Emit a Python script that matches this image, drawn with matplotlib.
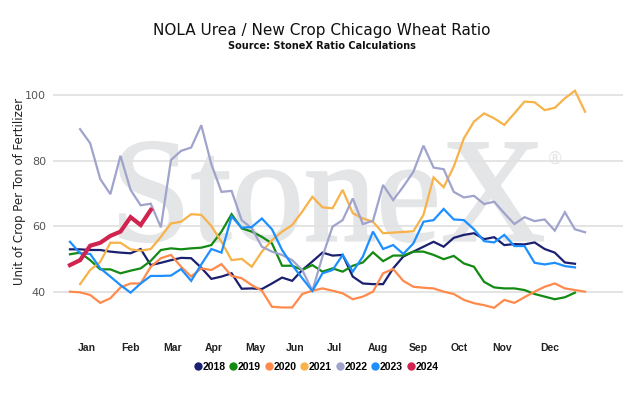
import numpy as np
import matplotlib
matplotlib.use("Agg")
import matplotlib.pyplot as plt
from matplotlib.textpath import TextPath
from matplotlib.patches import PathPatch
from matplotlib.font_manager import FontProperties
from matplotlib.transforms import Affine2D
from matplotlib.lines import Line2D

title = "NOLA Urea / New Crop Chicago Wheat Ratio"
subtitle = "Source: StoneX Ratio Calculations"

# weekly values (index 0 = first week shown)
y2018 = [53.0, 53.0, 52.8, 52.8, 52.3, 52.0, 51.8, 53.1, 48.2, 48.9, 49.7, 50.4, 50.3, 47.4,
         44.0, 44.7, 45.7, 41.0, 41.1, 40.9, 42.6, 44.4, 43.4, 46.7, 49.3, 52.0, 51.1, 51.3,
         44.7, 42.6, 42.4, 42.4, 47.2, 50.8, 52.3, 53.8, 55.3, 53.8, 56.5, 57.4, 57.9, 56.1,
         56.7, 54.3, 54.6, 54.5, 55.1, 53.1, 52.0, 49.0, 48.6]
y2019 = [51.5, 52.0, 49.7, 46.9, 46.9, 45.7, 46.5, 47.2, 49.5, 52.8, 53.3, 53.0, 53.3, 53.5,
         54.3, 58.4, 63.7, 59.4, 58.4, 56.8, 54.8, 48.0, 48.0, 46.7, 48.2, 46.2, 47.2, 46.2,
         48.0, 49.0, 52.1, 49.4, 51.1, 51.1, 52.3, 52.3, 51.3, 50.0, 51.0, 48.7, 47.7, 43.1,
         41.4, 41.1, 41.1, 40.6, 39.4, 38.6, 37.8, 38.4, 39.8]
y2020 = [40.1, 39.9, 39.1, 36.7, 38.1, 41.4, 42.6, 42.6, 47.7, 50.3, 51.3, 47.7, 44.7, 47.2,
         46.7, 48.5, 44.9, 44.2, 42.1, 40.4, 35.5, 35.3, 35.3, 39.4, 40.4, 41.1, 40.4, 39.6,
         37.8, 38.6, 40.1, 45.7, 47.0, 43.4, 41.6, 41.3, 41.1, 40.1, 39.4, 37.6, 36.6, 36.0,
         35.2, 37.6, 36.7, 38.4, 40.1, 41.6, 42.6, 41.1, 40.6, 40.1]
y2021 = [np.nan, 42.4, 46.7, 49.2, 55.0, 55.0, 53.0, 52.6, 53.1, 56.8, 60.9, 61.4, 63.7, 63.5,
         60.1, 55.3, 49.7, 50.1, 47.7, 52.3, 55.8, 58.4, 60.4, 64.5, 69.0, 65.8, 65.5, 71.1,
         64.0, 62.4, 61.4, 57.9, 58.1, 58.3, 58.5, 63.5, 74.9, 71.9, 78.2, 86.8, 91.9, 94.4,
         92.9, 90.9, 94.4, 98.0, 97.8, 95.4, 96.1, 99.0, 101.3, 94.9]
y2022 = [np.nan, 89.6, 85.3, 74.4, 69.8, 81.5, 71.1, 66.4, 66.9, 59.7, 80.2, 83.0, 84.0, 90.8,
         78.9, 70.5, 70.8, 61.9, 59.4, 53.8, 52.3, 51.3, 49.7, 46.7, 40.4, 50.8, 59.9, 61.9,
         68.5, 60.7, 61.7, 72.6, 68.0, 72.1, 76.6, 84.6, 77.9, 77.4, 70.5, 68.8, 69.3, 66.8,
         67.5, 64.0, 60.7, 62.8, 61.6, 62.1, 58.7, 64.3, 59.1, 58.2]
y2023 = [55.3, 51.8, 51.6, 47.2, 44.7, 42.1, 39.8, 42.6, 44.9, 44.9, 45.0, 47.0, 43.4, 48.4,
         53.1, 52.0, 63.0, 59.6, 59.8, 62.4, 59.1, 52.8, 48.2, 44.2, 40.3, 45.7, 46.7, 51.3,
         46.2, 50.8, 58.4, 53.1, 54.3, 51.6, 54.8, 61.4, 61.9, 65.3, 62.1, 61.9, 59.1, 55.5,
         55.1, 57.4, 54.0, 54.0, 48.9, 48.4, 48.9, 47.9, 47.5]
y2024 = [48.2, 49.7, 54.1, 55.0, 57.1, 58.4, 62.8, 60.4, 65.0]

years = ["2018", "2019", "2020", "2021", "2022", "2023", "2024"]
series = [y2018, y2019, y2020, y2021, y2022, y2023, y2024]
colors = ["#1b1f70", "#138a12", "#ff8a4c", "#f7b24a", "#a0a3cc", "#1e8fff", "#d0234f"]

months = ["Jan", "Feb", "Mar", "Apr", "May", "Jun", "Jul", "Aug", "Sep", "Oct", "Nov", "Dec"]
month_pos = [1.71, 6.01, 10.17, 14.19, 18.39, 22.25, 26.14, 30.52, 34.49, 38.51, 42.8, 47.46]

fig = plt.figure(figsize=(6.44, 4.0), dpi=100)
ax = fig.add_axes([0.0823, 0.2125, 0.885, 0.5828])
ax.set_zorder(2)
ax.patch.set_alpha(0)

# watermark behind the axes, fitted into its box in pixels
wm_col = "#e4e5e7"
fp = FontProperties(family="Liberation Serif")
tp = TextPath((0, 0), "StoneX", size=100, prop=fp)
bb = tp.get_extents()
wx0, wx1, wtop, wbot = 120, 543, 142, 242
sx = (wx1 - wx0) / bb.width
sy = (wbot - wtop) / bb.height
tr = (Affine2D().translate(-bb.x0, -bb.y0).scale(sx, sy)
      .translate(wx0, 400 - wbot).scale(1 / 100.0) + fig.dpi_scale_trans)
fig.patches.append(PathPatch(tp, transform=tr, facecolor=wm_col, edgecolor=wm_col, lw=1.5, zorder=0))
fig.text(555 / 644, 1 - 159 / 400, "®", fontsize=12, color=wm_col, ha="center", va="center",
         family="DejaVu Sans", zorder=0)

for yr, vals, col in zip(years, series, colors):
    x = np.arange(len(vals))
    lw = 3.0 if yr == "2024" else 1.6
    ax.plot(x, vals, color=col, lw=lw, label=yr, zorder=3 if yr == "2024" else 2,
            solid_joinstyle="miter")

ax.set_xlim(-1.68, 54.75)
ax.set_ylim(33, 104)
ax.set_yticks([40, 60, 80, 100])
ax.set_xticks(month_pos)
ax.set_xticklabels(months, fontsize=7.5, fontweight="bold", color="#222222", family="Liberation Sans")
ax.tick_params(axis="x", length=0, pad=20)
ax.tick_params(axis="y", length=0, pad=5, labelsize=8, labelcolor="#555555")
ax.grid(axis="y", color="#e2e2e2", lw=1.3)
for s in ax.spines.values():
    s.set_visible(False)
ax.set_ylabel("Unit of Crop Per Ton of Fertilizer", fontsize=8.5, color="#222222", va="center")
ax.yaxis.set_label_coords(-0.058, 0.532)

fig.text(0.5, 1 - 30 / 400, title, ha="center", va="center", fontsize=11, color="#111111")
fig.text(0.5, 1 - 46 / 400, subtitle, ha="center", va="center", fontsize=7, fontweight="bold",
         color="#111111")

handles = [Line2D([], [], ls="none", marker="o", ms=5, color=c) for c in colors]
fig.legend(handles, years, loc="center", bbox_to_anchor=(0.492, 1 - 367 / 400), ncol=7, frameon=False,
           handlelength=0.5, handletextpad=0.2, columnspacing=0.5,
           prop={"weight": "bold", "size": 7.5, "family": "Liberation Sans"})

fig.savefig("out.png", dpi=100)
